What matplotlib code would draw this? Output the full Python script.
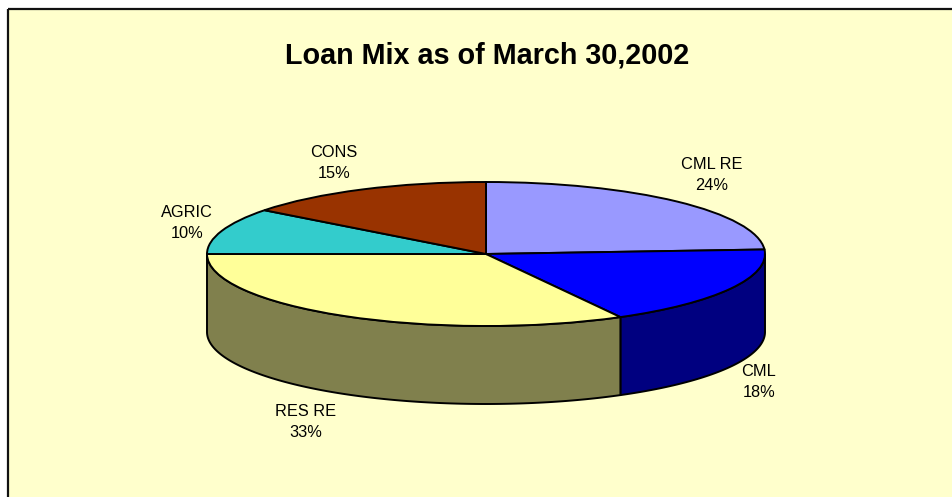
import numpy as np
import matplotlib
matplotlib.use("Agg")
import matplotlib.pyplot as plt
from matplotlib.patches import Polygon

categories = ["CML RE", "CML", "RES RE", "AGRIC", "CONS"]
values = [24.0, 18.0, 33.0, 10.4, 14.6]
top_colors = ["#9999FF", "#0000FF", "#FFFF99", "#33CCCC", "#993300"]
side_colors = ["#4C4C80", "#000080", "#80804D", "#1A6666", "#4D1A00"]
label_pos_px = [(712, 175), (759, 382), (306, 422), (187, 223), (334, 163)]
title = "Loan Mix as of March 30,2002"

W, H = 953, 497
CX, CY, RX, RY, DEPTH = 486, 254, 279, 72, 78
BG = "#FFFFCC"
plt.rcParams["font.family"] = ["Liberation Sans", "DejaVu Sans"]

fig = plt.figure(figsize=(W / 100, H / 100), dpi=100, facecolor="white")
ax = fig.add_axes([0, 0, 1, 1])

def X(px): return (px - CX) / RX
def Y(py): return (CY - py) / RY

ax.add_patch(plt.Rectangle((X(8.5), Y(H + 5)), X(W + 5) - X(8.5), Y(9) - Y(H + 5),
                           facecolor=BG, edgecolor="none", zorder=0))
ax.plot([X(8.5), X(8.5)], [Y(H), Y(9)], color="#111111", lw=1.6, zorder=1, solid_capstyle="butt")
ax.plot([X(8), X(W)], [Y(9), Y(9)], color="#111111", lw=1.6, zorder=1, solid_capstyle="butt")

# side wall
d = DEPTH / RY
cum = np.cumsum([0] + values) / sum(values) * 360.0   # clockwise from top
for i in range(len(values)):
    a0, a1 = cum[i], cum[i + 1]
    lo, hi = max(a0, 90.0), min(a1, 270.0)
    if hi <= lo:
        continue
    t = np.radians(np.linspace(lo, hi, 120))
    x, y = np.sin(t), np.cos(t)
    pts = np.r_[np.c_[x, y], np.c_[x[::-1], y[::-1] - d]]
    ax.add_patch(Polygon(pts, closed=True, facecolor=side_colors[i], edgecolor="black",
                         lw=1.4, zorder=2, joinstyle="round"))

wedges, _ = ax.pie(values, colors=top_colors, startangle=90, counterclock=False, radius=1,
                   center=(0, 0), wedgeprops=dict(edgecolor="black", linewidth=1.4, zorder=3),
                   frame=False)
# one data unit in x = RX px, one in y = RY px, so a unit pie becomes the tilted ellipse
ax.set_aspect("auto")
ax.set_xlim((0 - CX) / RX, (W - CX) / RX)
ax.set_ylim((CY - H) / RY, (CY - 0) / RY)
ax.axis("off")

for name, val, (px, py) in zip(categories, values, label_pos_px):
    ax.text(X(px), Y(py), f"{name}\n{round(val)}%", ha="center", va="center", fontsize=11.8,
            color="black", linespacing=1.5, zorder=5)

ax.text(X(487.5), Y(55.5), title, ha="center", va="center", fontsize=20.7, fontweight="bold",
        color="black", zorder=5)

fig.savefig("out.png", dpi=100, facecolor="white")
